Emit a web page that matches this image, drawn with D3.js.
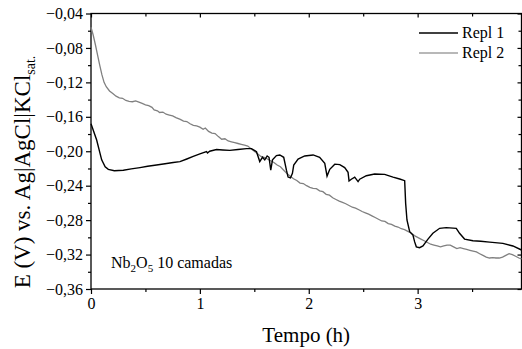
<!DOCTYPE html>
<html><head><meta charset="utf-8">
<script src="https://cdn.jsdelivr.net/npm/d3@7"></script>
<style>body{margin:0;background:#fff}svg{display:block}text{font-family:"Liberation Serif","Times New Roman",serif;fill:#000}</style>
</head><body>
<svg id="c" width="522" height="349"></svg>
<script>
const xDomain = [0, 3.954];
const yDomain = [-0.36, -0.04];
const xTicks = [0, 1, 2, 3];
const xMinor = [0.5, 1.5, 2.5, 3.5];
const yTicks = [-0.04, -0.08, -0.12, -0.16, -0.20, -0.24, -0.28, -0.32, -0.36];
const yMinor = [-0.06, -0.10, -0.14, -0.18, -0.22, -0.26, -0.30, -0.34];
const seriesNames = ["Repl 1", "Repl 2"];

const repl1 = [[0,-0.168],[0.052,-0.187],[0.098,-0.210],[0.13,-0.218],[0.159,-0.221],[0.214,-0.2226],[0.297,-0.222],[0.37,-0.2205],[0.45,-0.219],[0.52,-0.2175],[0.602,-0.216],[0.68,-0.2145],[0.755,-0.213],[0.817,-0.212],[0.88,-0.209],[0.939,-0.206],[1.0,-0.203],[1.061,-0.2005],[1.07,-0.202],[1.09,-0.200],[1.153,-0.198],[1.21,-0.1985],[1.275,-0.199],[1.35,-0.198],[1.428,-0.197],[1.474,-0.197],[1.52,-0.2005],[1.55,-0.212],[1.575,-0.207],[1.596,-0.210],[1.618,-0.2055],[1.635,-0.207],[1.651,-0.222],[1.667,-0.210],[1.703,-0.205],[1.734,-0.2043],[1.77,-0.207],[1.795,-0.222],[1.81,-0.230],[1.832,-0.231],[1.85,-0.2256],[1.862,-0.216],[1.902,-0.209],[1.963,-0.2055],[2.04,-0.2043],[2.1,-0.207],[2.147,-0.214],[2.168,-0.2289],[2.193,-0.221],[2.239,-0.215],[2.285,-0.2155],[2.33,-0.219],[2.361,-0.2245],[2.37,-0.2345],[2.391,-0.2325],[2.422,-0.230],[2.453,-0.2353],[2.468,-0.2325],[2.529,-0.2284],[2.605,-0.2264],[2.697,-0.2268],[2.774,-0.230],[2.835,-0.2322],[2.881,-0.2342],[2.89,-0.2605],[2.902,-0.2798],[2.927,-0.2934],[2.957,-0.2973],[2.972,-0.305],[2.988,-0.311],[3.018,-0.312],[3.049,-0.310],[3.095,-0.302],[3.14,-0.2953],[3.202,-0.2895],[3.263,-0.2887],[3.355,-0.2895],[3.385,-0.2953],[3.431,-0.302],[3.508,-0.304],[3.58,-0.3045],[3.661,-0.3055],[3.783,-0.307],[3.875,-0.310],[3.954,-0.3147]];

const repl2 = [[0,-0.056],[0.02,-0.065],[0.04,-0.076],[0.06,-0.088],[0.08,-0.100],[0.10,-0.111],[0.12,-0.120],[0.14,-0.125],[0.17,-0.130],[0.20,-0.133],[0.23,-0.136],[0.26,-0.138],[0.29,-0.1385],[0.32,-0.141],[0.35,-0.142],[0.38,-0.1425],[0.41,-0.1415],[0.44,-0.143],[0.47,-0.1445],[0.50,-0.146],[0.53,-0.147],[0.56,-0.149],[0.58,-0.152],[0.61,-0.153],[0.63,-0.155],[0.66,-0.1545],[0.69,-0.157],[0.72,-0.158],[0.75,-0.159],[0.78,-0.161],[0.82,-0.163],[0.85,-0.165],[0.88,-0.1655],[0.91,-0.168],[0.94,-0.170],[0.97,-0.1705],[1.00,-0.172],[1.03,-0.1745],[1.05,-0.173],[1.08,-0.177],[1.11,-0.179],[1.14,-0.1795],[1.17,-0.183],[1.20,-0.186],[1.23,-0.1855],[1.26,-0.188],[1.29,-0.189],[1.32,-0.190],[1.35,-0.191],[1.38,-0.192],[1.41,-0.193],[1.44,-0.194],[1.47,-0.197],[1.50,-0.200],[1.53,-0.203],[1.56,-0.206],[1.59,-0.207],[1.62,-0.209],[1.65,-0.211],[1.68,-0.213],[1.71,-0.216],[1.74,-0.218],[1.77,-0.222],[1.80,-0.226],[1.83,-0.229],[1.86,-0.232],[1.89,-0.234],[1.92,-0.237],[1.95,-0.2375],[1.98,-0.240],[2.01,-0.242],[2.04,-0.243],[2.07,-0.2435],[2.10,-0.246],[2.13,-0.247],[2.16,-0.250],[2.19,-0.251],[2.22,-0.254],[2.25,-0.256],[2.28,-0.258],[2.31,-0.2595],[2.34,-0.261],[2.37,-0.263],[2.40,-0.265],[2.43,-0.266],[2.46,-0.268],[2.49,-0.270],[2.52,-0.2715],[2.55,-0.273],[2.58,-0.275],[2.61,-0.277],[2.64,-0.279],[2.67,-0.281],[2.70,-0.2815],[2.73,-0.284],[2.76,-0.285],[2.79,-0.287],[2.82,-0.288],[2.85,-0.290],[2.88,-0.291],[2.91,-0.293],[2.94,-0.295],[2.97,-0.298],[3.00,-0.300],[3.03,-0.302],[3.06,-0.304],[3.09,-0.306],[3.12,-0.308],[3.15,-0.309],[3.18,-0.310],[3.21,-0.311],[3.24,-0.310],[3.27,-0.309],[3.30,-0.309],[3.33,-0.311],[3.36,-0.313],[3.39,-0.312],[3.42,-0.313],[3.45,-0.314],[3.48,-0.315],[3.51,-0.316],[3.54,-0.317],[3.57,-0.319],[3.60,-0.321],[3.63,-0.323],[3.66,-0.324],[3.69,-0.3235],[3.72,-0.324],[3.75,-0.324],[3.78,-0.323],[3.81,-0.321],[3.84,-0.319],[3.87,-0.320],[3.90,-0.322],[3.93,-0.324],[3.954,-0.325]];

const FONT = "'Liberation Serif', 'Times New Roman', serif";
const svg = d3.select("#c");
const L = 91, R = 521.5, T = 13.5, B = 289;
const x = d3.scaleLinear().domain(xDomain).range([L, R]);
const y = d3.scaleLinear().domain(yDomain).range([B, T]);
const fmt = d => d3.format(".2f")(d).replace(".", ",");

// axes
svg.append("g").attr("transform", `translate(${L},0)`)
  .call(d3.axisLeft(y).tickValues(yTicks).tickFormat(fmt).tickSize(5).tickPadding(3));
svg.append("g").attr("transform", `translate(${L},0)`)
  .call(d3.axisLeft(y).tickValues(yMinor).tickFormat("").tickSize(3));
svg.append("g").attr("transform", `translate(0,${B})`)
  .call(d3.axisBottom(x).tickValues(xTicks).tickFormat(d3.format("d")).tickSize(5).tickPadding(4));
svg.append("g").attr("transform", `translate(0,${B})`)
  .call(d3.axisBottom(x).tickValues(xMinor).tickFormat("").tickSize(3));
svg.append("g").attr("transform", `translate(0,${T})`)
  .call(d3.axisBottom(x).tickValues(xTicks).tickFormat("").tickSize(4));
svg.append("g").attr("transform", `translate(0,${T})`)
  .call(d3.axisBottom(x).tickValues(xMinor).tickFormat("").tickSize(3));
svg.append("g").attr("transform", `translate(${R},0)`)
  .call(d3.axisLeft(y).tickValues(yTicks).tickFormat("").tickSize(4));
svg.append("g").attr("transform", `translate(${R},0)`)
  .call(d3.axisLeft(y).tickValues(yMinor).tickFormat("").tickSize(3));
svg.selectAll("g").attr("font-family", FONT).attr("font-size", 16);
svg.selectAll(".domain").remove();
svg.selectAll(".tick line").attr("stroke", "#000").attr("stroke-width", 1.2);
svg.selectAll(".tick text").attr("font-family", FONT).style("font-family", FONT).style("font-size", "16px");
svg.append("rect").attr("x", L).attr("y", T).attr("width", R - L).attr("height", B - T)
  .attr("fill", "none").attr("stroke", "#000").attr("stroke-width", 1.3);

// lines
const line = d3.line().x(d => x(d[0])).y(d => y(d[1]));
svg.append("path").datum(repl2).attr("d", line).attr("fill", "none").attr("stroke", "#808080").attr("stroke-width", 1.3);
svg.append("path").datum(repl1).attr("d", line).attr("fill", "none").attr("stroke", "#000").attr("stroke-width", 1.4);

// legend
const lg = svg.append("g");
const legColors = ["#000", "#a0a0a0"];
seriesNames.forEach((n, i) => {
  const yy = 33 + i * 20;
  lg.append("line").attr("x1", 419).attr("x2", 458).attr("y1", yy).attr("y2", yy)
    .attr("stroke", legColors[i]).attr("stroke-width", 1.4);
  lg.append("text").attr("x", 462).attr("y", yy + 5).style("font-family", FONT).style("font-size", "16px").text(n);
});

// annotation
const ann = svg.append("text").attr("x", 111).attr("y", 268).style("font-family", FONT).style("font-size", "16px");
ann.append("tspan").text("Nb");
ann.append("tspan").attr("dy", 4).style("font-size", "11px").text("2");
ann.append("tspan").attr("dy", -4).text("O");
ann.append("tspan").attr("dy", 4).style("font-size", "11px").text("5");
ann.append("tspan").attr("dy", -4).text(" 10 camadas");

// axis titles
svg.append("text").attr("x", (L + R) / 2).attr("y", 342).attr("text-anchor", "middle")
  .style("font-family", FONT).style("font-size", "21px").text("Tempo (h)");
const yl = svg.append("text").attr("transform", `translate(30,172) rotate(-90)`)
  .attr("text-anchor", "middle").style("font-family", FONT).style("font-size", "23px");
yl.append("tspan").text("E (V) vs. Ag|AgCl|KCl");
yl.append("tspan").attr("dy", 5).style("font-size", "14px").text("sat.");
</script>
</body></html>
